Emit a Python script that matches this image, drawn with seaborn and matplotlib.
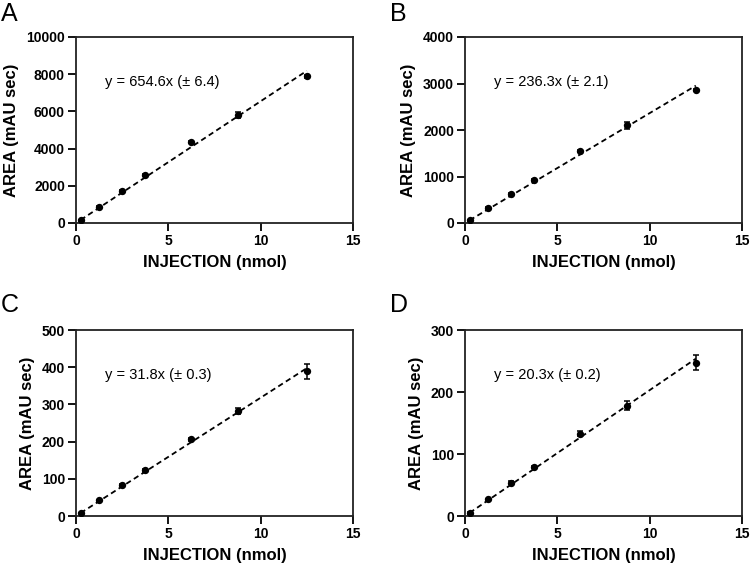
"""Calibration curves: peak area vs injected amount, four analytes."""

import matplotlib
matplotlib.use("Agg")
import matplotlib.pyplot as plt
import numpy as np
import pandas as pd
import seaborn as sns

injection = [0.25, 1.25, 2.5, 3.75, 6.25, 8.75, 12.5]

area_a = [150, 870, 1730, 2600, 4350, 5820, 7880]
err_a = [30, 40, 50, 60, 70, 160, 80]
area_b = [60, 320, 620, 920, 1550, 2100, 2860]
err_b = [10, 15, 20, 25, 30, 75, 30]
area_c = [8, 42, 83, 123, 206, 281, 389]
err_c = [1, 2, 3, 4, 4, 8, 20]
area_d = [5, 27, 54, 79, 133, 178, 247]
err_d = [1, 1, 2, 2, 4, 7, 12]

slopes = [654.6, 236.3, 31.8, 20.3]
slope_err = [6.4, 2.1, 0.3, 0.2]
y_max = [10000, 4000, 500, 300]
y_step = [2000, 1000, 100, 100]
letters = ["A", "B", "C", "D"]

sns.set_style("ticks")
plt.rcParams["font.family"] = ["Liberation Sans", "DejaVu Sans"]
plt.rcParams["text.color"] = "black"
plt.rcParams["axes.labelcolor"] = "black"
plt.rcParams["xtick.color"] = "black"
plt.rcParams["ytick.color"] = "black"
plt.rcParams["axes.edgecolor"] = "#222222"

fig = plt.figure(figsize=(7.5, 5.66), dpi=100)
positions = [(76, 37), (465, 37), (76, 330), (465, 330)]
letter_pos = [(1, 2), (390, 2), (1, 293), (390, 293)]
W, H = 750, 566
ax_w, ax_h = 277, 186

panels = [(area_a, err_a), (area_b, err_b), (area_c, err_c), (area_d, err_d)]
for i, (area, err) in enumerate(panels):
    left, top = positions[i]
    ax = fig.add_axes([left / W, (H - top - ax_h) / H, ax_w / W, ax_h / H])
    df = pd.DataFrame({"x": injection, "y": area, "err": err})

    fit = pd.DataFrame({"x": injection, "y": slopes[i] * np.array(injection)})
    sns.lineplot(data=fit, x="x", y="y", ax=ax, color="black", lw=1.3,
                 linestyle=(0, (3, 2)), zorder=1)
    ax.errorbar(df["x"], df["y"], yerr=df["err"], fmt="none", ecolor="black",
                elinewidth=1.1, capsize=2.5, capthick=1.1, zorder=2)
    sns.scatterplot(data=df, x="x", y="y", ax=ax, color="black", s=28,
                    edgecolor="black", linewidth=0, zorder=3)

    ax.set_xlim(0, 15)
    ax.set_ylim(0, y_max[i])
    ax.set_xticks([0, 5, 10, 15])
    ax.set_yticks(np.arange(0, y_max[i] + 1, y_step[i]))
    for s in ax.spines.values():
        s.set_linewidth(1.3)
        s.set_visible(True)
    ax.tick_params(direction="out", length=5.5, width=1.3, labelsize=10, pad=2.5)
    for lab in ax.get_xticklabels() + ax.get_yticklabels():
        lab.set_fontweight("bold")
    ax.set_xlabel("INJECTION (nmol)", fontsize=12, fontweight="bold", labelpad=5)
    ax.set_ylabel("AREA (mAU sec)", fontsize=12, fontweight="bold", labelpad=5)

    ax.text(1.55, y_max[i] * 0.76,
            f"y = {slopes[i]}x (\u00b1 {slope_err[i]})",
            fontsize=10.5, va="center", ha="left")

    lx, ly = letter_pos[i]
    fig.text(lx / W, 1 - ly / H, letters[i], fontsize=18, va="top", ha="left")

fig.savefig("out.png", dpi=100)
